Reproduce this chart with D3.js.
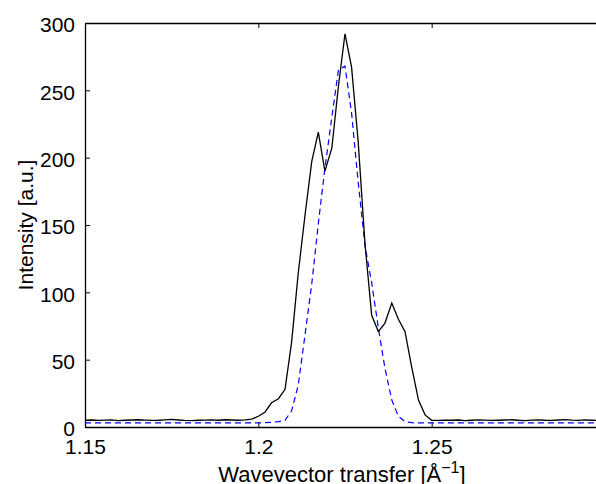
<!DOCTYPE html>
<html>
<head>
<meta charset="utf-8">
<script src="https://cdn.jsdelivr.net/npm/d3@7"></script>
<style>
  html, body { margin: 0; padding: 0; background: #fff; overflow: hidden; }
  svg { display: block; }
  text { font-family: "Liberation Sans", Arial, Helvetica, sans-serif; fill: #000; }
</style>
</head>
<body>
<svg id="chart" width="596" height="484"></svg>
<script>
// Wavevector transfer grid (1/Å)
const q = [
  1.1500, 1.1519, 1.1538, 1.1558, 1.1577, 1.1596, 1.1615, 1.1635, 1.1654, 1.1673,
  1.1692, 1.1712, 1.1731, 1.1750, 1.1769, 1.1788, 1.1808, 1.1827, 1.1846, 1.1865,
  1.1885, 1.1904, 1.1923, 1.1942, 1.1962, 1.1981, 1.2000, 1.2019, 1.2038, 1.2058,
  1.2077, 1.2096, 1.2115, 1.2135, 1.2154, 1.2173, 1.2192, 1.2212, 1.2231, 1.2250,
  1.2269, 1.2288, 1.2308, 1.2327, 1.2346, 1.2365, 1.2385, 1.2404, 1.2423, 1.2442,
  1.2462, 1.2481, 1.2500, 1.2519, 1.2538, 1.2558, 1.2577, 1.2596, 1.2615, 1.2635,
  1.2654, 1.2673, 1.2692, 1.2712, 1.2731, 1.2750, 1.2769, 1.2788, 1.2808, 1.2827,
  1.2846, 1.2865, 1.2885, 1.2904, 1.2923, 1.2942, 1.2962, 1.2981, 1.3000
];

// Measured intensity (solid black)
const measured = [
  5.0, 5.2, 4.9, 5.1, 5.3, 4.8, 5.0, 5.2, 5.4, 5.1,
  4.9, 5.0, 5.3, 5.6, 5.2, 4.9, 4.7, 5.0, 5.1, 5.3,
  5.0, 5.4, 5.2, 5.0, 5.3, 5.8, 8, 11, 18, 21,
  28, 63, 114, 158, 197, 219, 190, 207, 253, 292,
  267, 212, 135, 83, 71, 77, 92, 80, 71, 45,
  20, 9, 5.0, 4.9, 5.1, 5.0, 5.2, 4.8, 5.0, 5.3,
  5.1, 4.9, 5.0, 5.2, 5.4, 5.0, 4.8, 5.1, 5.3, 5.0,
  4.9, 5.2, 5.5, 5.1, 4.9, 5.3, 5.0, 4.8, 5.2
];

// Fitted peak (dashed blue)
const fitted = [
  3, 3, 3, 3, 3, 3, 3, 3, 3, 3,
  3, 3, 3, 3, 3, 3, 3, 3, 3, 3,
  3, 3, 3, 3, 3, 3, 3, 3.2, 3.5, 4,
  5, 12, 31, 69, 106, 151, 192, 230, 265, 268,
  233, 182, 134, 107, 74, 44, 20, 8, 4, 3.2,
  3, 3, 3, 3, 3, 3, 3, 3, 3, 3,
  3, 3, 3, 3, 3, 3, 3, 3, 3, 3,
  3, 3, 3, 3, 3, 3, 3, 3, 3
];

const xTicks = [1.15, 1.2, 1.25, 1.3];
const xTickLabels = ["1.15", "1.2", "1.25", ""];
const yTicks = [0, 50, 100, 150, 200, 250, 300];

const svg = d3.select("#chart");
const margin = { left: 85, top: 23, right: 605, bottom: 427 };

const x = d3.scaleLinear().domain([1.15, 1.3]).range([margin.left, margin.right]);
const y = d3.scaleLinear().domain([0, 300]).range([margin.bottom, margin.top]);

const tickLen = 5;
const fs = 21;

const g = svg.append("g");

// bottom axis
const xAxisB = d3.axisBottom(x).tickValues(xTicks)
  .tickFormat((d, i) => xTickLabels[i]).tickSizeInner(-tickLen).tickSizeOuter(0).tickPadding(12);
const gxb = g.append("g").attr("transform", `translate(0,${margin.bottom})`).call(xAxisB);
gxb.selectAll("text").attr("font-size", fs).attr("font-family", "Liberation Sans, Arial, sans-serif");

// top axis (ticks only)
const xAxisT = d3.axisTop(x).tickValues(xTicks).tickFormat("").tickSizeInner(-tickLen).tickSizeOuter(0);
g.append("g").attr("transform", `translate(0,${margin.top})`).call(xAxisT);

// left axis
const yAxisL = d3.axisLeft(y).tickValues(yTicks).tickFormat(d3.format("d"))
  .tickSizeInner(-tickLen).tickSizeOuter(0).tickPadding(10);
const gyl = g.append("g").attr("transform", `translate(${margin.left},0)`).call(yAxisL);
gyl.selectAll("text").attr("font-size", fs).attr("font-family", "Liberation Sans, Arial, sans-serif")
  .attr("dy", "0.42em");

// right axis (ticks only, out of view)
const yAxisR = d3.axisRight(y).tickValues(yTicks).tickFormat("").tickSizeInner(-tickLen).tickSizeOuter(0);
g.append("g").attr("transform", `translate(${margin.right},0)`).call(yAxisR);

g.selectAll(".domain").attr("stroke", "#000").attr("stroke-width", 1.3);
g.selectAll(".tick line").attr("stroke", "#000").attr("stroke-width", 1);

svg.append("clipPath").attr("id", "clip").append("rect")
  .attr("x", margin.left).attr("y", margin.top)
  .attr("width", margin.right - margin.left).attr("height", margin.bottom - margin.top);

const line = d3.line().x(d => x(d[0])).y(d => y(d[1]));
const plot = svg.append("g").attr("clip-path", "url(#clip)");

plot.append("path")
  .datum(q.map((v, i) => [v, fitted[i]]))
  .attr("fill", "none").attr("stroke", "#0000ff").attr("stroke-width", 1.2)
  .attr("stroke-dasharray", "6,4")
  .attr("d", line);

plot.append("path")
  .datum(q.map((v, i) => [v, measured[i]]))
  .attr("fill", "none").attr("stroke", "#000").attr("stroke-width", 1.3)
  .attr("d", line);

// Axis titles
const xl = svg.append("text")
  .attr("x", 342)
  .attr("y", 482)
  .attr("text-anchor", "middle")
  .attr("font-size", 22);
xl.append("tspan").text("Wavevector transfer [Å");
xl.append("tspan").attr("dy", -9).attr("font-size", 16).text("\u22121");
xl.append("tspan").attr("dy", 9).text("]");

svg.append("text")
  .attr("transform", `translate(33,${(margin.top + margin.bottom) / 2}) rotate(-90)`)
  .attr("text-anchor", "middle")
  .attr("font-size", fs)
  .text("Intensity [a.u.]");
</script>
</body>
</html>
